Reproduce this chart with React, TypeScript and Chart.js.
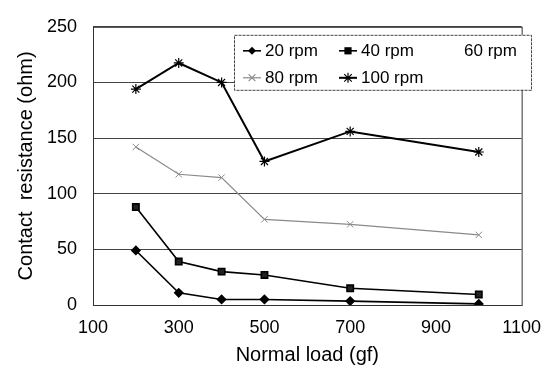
import React, { useEffect, useRef } from "react";
import { Chart, registerables } from "chart.js";

Chart.register(...registerables);

const loads = [200, 300, 400, 500, 700, 1000];
const rpm20 = [49, 11, 5, 5, 3.5, 1];
const rpm40 = [88, 39, 30, 27, 15, 9.5];
const rpm60: number[] = [];
const rpm80 = [142, 117.5, 114.5, 77, 72.5, 63];
const rpm100 = [194, 217.5, 200, 129, 156, 137.5];
const seriesLabels = ["20 rpm", "40 rpm", "60 rpm", "80 rpm", "100 rpm"];
const xTicks = [100, 300, 500, 700, 900, 1100];
const yTicks = [0, 50, 100, 150, 200, 250];

const FONT = "'Liberation Sans', Arial, sans-serif";

function toPoints(vals: number[]) {
  return vals.map((v, i) => ({ x: loads[i], y: v }));
}

function drawMarker(ctx: CanvasRenderingContext2D, style: string, x: number, y: number, r: number, color: string) {
  ctx.save();
  ctx.fillStyle = color;
  ctx.strokeStyle = color;
  ctx.lineWidth = 1.2;
  ctx.beginPath();
  if (style === "rectRot") {
    ctx.moveTo(x, y - r);
    ctx.lineTo(x + r, y);
    ctx.lineTo(x, y + r);
    ctx.lineTo(x - r, y);
    ctx.closePath();
    ctx.fill();
  } else if (style === "rect") {
    ctx.rect(x - r * 0.8, y - r * 0.8, r * 1.6, r * 1.6);
    ctx.fill();
  } else if (style === "crossRot") {
    const d = r * 0.75;
    ctx.moveTo(x - d, y - d);
    ctx.lineTo(x + d, y + d);
    ctx.moveTo(x - d, y + d);
    ctx.lineTo(x + d, y - d);
    ctx.stroke();
  } else if (style === "star") {
    const d = r * 0.75;
    ctx.moveTo(x - d, y - d);
    ctx.lineTo(x + d, y + d);
    ctx.moveTo(x - d, y + d);
    ctx.lineTo(x + d, y - d);
    ctx.moveTo(x, y - r);
    ctx.lineTo(x, y + r);
    ctx.moveTo(x - r, y);
    ctx.lineTo(x + r, y);
    ctx.stroke();
  }
  ctx.restore();
}

const framePlugin = {
  id: "frame",
  afterDatasetsDraw(chart: any) {
    const { ctx, chartArea } = chart;
    ctx.save();
    ctx.strokeStyle = "#333";
    ctx.lineWidth = 1;
    ctx.strokeRect(chartArea.left + 0.5, chartArea.top + 0.5, chartArea.right - chartArea.left, chartArea.bottom - chartArea.top);
    ctx.restore();
  },
};

const legendPlugin = {
  id: "boxLegend",
  afterDraw(chart: any) {
    const { ctx, chartArea } = chart;
    const left = chartArea.left + 141;
    const top = chartArea.top + 8;
    const w = 297;
    const h = 55;
    ctx.save();
    ctx.fillStyle = "#fff";
    ctx.fillRect(left, top, w, h);
    ctx.strokeStyle = "#444";
    ctx.lineWidth = 1;
    ctx.setLineDash([3, 1]);
    ctx.strokeRect(left + 0.5, top + 0.5, w, h);
    ctx.setLineDash([]);
    ctx.font = `17px ${FONT}`;
    ctx.textBaseline = "middle";
    ctx.textAlign = "left";
    const colX = [left + 9, left + 105, left + 208];
    const rowY = [top + 16, top + 43];
    chart.data.datasets.forEach((ds: any, i: number) => {
      const col = i % 3;
      const row = Math.floor(i / 3);
      const mx = colX[col];
      const my = rowY[row];
      if (ds.showInLegendLine) {
        ctx.strokeStyle = ds.borderColor;
        ctx.lineWidth = ds.borderWidth;
        ctx.beginPath();
        ctx.moveTo(mx, my);
        ctx.lineTo(mx + 18, my);
        ctx.stroke();
        drawMarker(ctx, ds.pointStyle, mx + 9, my, ds.pointRadius, ds.pointBorderColor);
      }
      ctx.fillStyle = "#000";
      ctx.fillText(ds.label, mx + 22, my + 1);
    });
    ctx.restore();
  },
};

export default function App() {
  const ref = useRef<HTMLCanvasElement | null>(null);
  useEffect(() => {
    document.body.style.margin = "0";
    const canvas = ref.current;
    if (!canvas) return;
    const chart = new Chart(canvas, {
      type: "line",
      data: {
        datasets: [
          {
            label: seriesLabels[0],
            data: toPoints(rpm20),
            borderColor: "#000",
            backgroundColor: "#000",
            pointBorderColor: "#000",
            pointBackgroundColor: "#000",
            borderWidth: 1.6,
            pointStyle: "rectRot",
            pointRadius: 4,
            showInLegendLine: true,
          } as any,
          {
            label: seriesLabels[1],
            data: toPoints(rpm40),
            borderColor: "#000",
            backgroundColor: "#222",
            pointBorderColor: "#000",
            pointBackgroundColor: "#222",
            borderWidth: 1.6,
            pointStyle: "rect",
            pointRadius: 4.5,
            showInLegendLine: true,
          } as any,
          {
            label: seriesLabels[2],
            data: toPoints(rpm60),
            borderColor: "#000",
            borderWidth: 0,
            pointRadius: 0,
            showInLegendLine: false,
          } as any,
          {
            label: seriesLabels[3],
            data: toPoints(rpm80),
            borderColor: "#8a8a8a",
            backgroundColor: "#8a8a8a",
            pointBorderColor: "#8a8a8a",
            pointBackgroundColor: "#8a8a8a",
            borderWidth: 1.2,
            pointStyle: "crossRot",
            pointRadius: 4.5,
            pointBorderWidth: 1,
            showInLegendLine: true,
          } as any,
          {
            label: seriesLabels[4],
            data: toPoints(rpm100),
            borderColor: "#000",
            backgroundColor: "#000",
            pointBorderColor: "#000",
            pointBackgroundColor: "#000",
            borderWidth: 2,
            pointStyle: "star",
            pointRadius: 5,
            pointBorderWidth: 1.2,
            showInLegendLine: true,
          } as any,
        ],
      },
      options: {
        responsive: false,
        animation: false,
        devicePixelRatio: 1,
        layout: { padding: { top: 17, right: 28, left: 0, bottom: 0 } },
        plugins: {
          legend: { display: false },
          tooltip: { enabled: false },
        },
        scales: {
          x: {
            type: "linear",
            min: 100,
            max: 1100,
            afterBuildTicks: (scale: any) => {
              scale.ticks = xTicks.map((v) => ({ value: v }));
            },
            afterFit: (scale: any) => {
              scale.height = 64;
            },
            grid: { display: false, drawTicks: false },
            border: { display: false },
            ticks: {
              color: "#000",
              font: { family: FONT, size: 18 },
              padding: 12,
              maxRotation: 0,
              autoSkip: false,
              callback: (v: any) => String(v),
            },
            title: {
              display: true,
              text: "Normal load (gf)",
              color: "#000",
              font: { family: FONT, size: 20 },
              padding: { top: 0, bottom: 2 },
            },
          },
          y: {
            type: "linear",
            min: 0,
            max: 250,
            afterBuildTicks: (scale: any) => {
              scale.ticks = yTicks.map((v) => ({ value: v }));
            },
            afterFit: (scale: any) => {
              scale.width = 93;
            },
            grid: { color: "#444", lineWidth: 1, drawTicks: false },
            border: { display: false },
            ticks: {
              color: "#000",
              font: { family: FONT, size: 18 },
              padding: 16,
              callback: (v: any) => String(v),
            },
            title: {
              display: true,
              text: "Contact  resistance (ohm)",
              color: "#000",
              font: { family: FONT, size: 20 },
              padding: { top: 14, bottom: 0 },
            },
          },
        },
      } as any,
      plugins: [framePlugin, legendPlugin],
    });
    return () => chart.destroy();
  }, []);
  return (
    <div style={{ width: 553, height: 369, background: "#fff" }}>
      <canvas ref={ref} width={553} height={369} />
    </div>
  );
}
